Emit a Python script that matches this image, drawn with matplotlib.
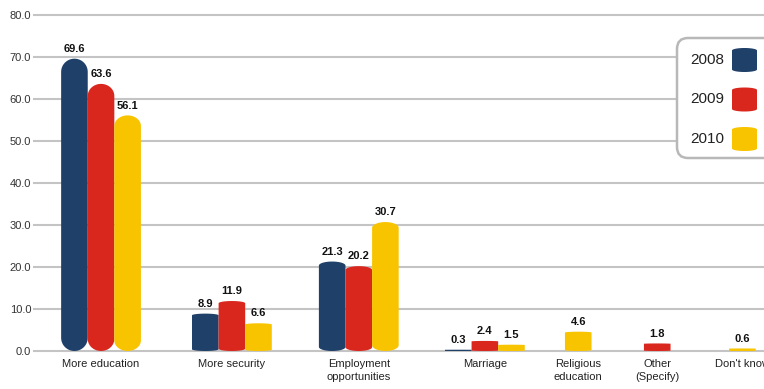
import numpy as np
import matplotlib
matplotlib.use('Agg')
import matplotlib.pyplot as plt
import matplotlib.transforms as mtransforms
from matplotlib.patches import FancyBboxPatch

plt.rcParams['font.family'] = ['Liberation Sans', 'DejaVu Sans']

categories = ["More education", "More security", "Employment\nopportunities", "Marriage",
              "Religious\neducation", "Other\n(Specify)", "Don't know"]
years = ['2008', '2009', '2010']
v2008 = [69.6, 8.9, 21.3, 0.3, 0, 0, 0]
v2009 = [63.6, 11.9, 20.2, 2.4, 0, 1.8, 0]
v2010 = [56.1, 6.6, 30.7, 1.5, 4.6, 0, 0.6]
yticks = np.arange(0, 81, 10)

colors = ['#1f4068', '#da271e', '#f8c400']

# layout, in bar widths
group_centers = [2.52, 7.44, 12.21, 16.95, 20.46, 23.43, 26.63]
cap_frac = 0.045


def cylinder(x0, w, y0, h, c, n=30):
    t = np.linspace(0, np.pi, n)
    xs_top = x0 + w / 2 + w / 2 * np.cos(t)
    ys_top = y0 + h - c + c * np.sin(t)
    xs_bot = x0 + w / 2 - w / 2 * np.cos(t)
    ys_bot = y0 + c - c * np.sin(t)
    return np.r_[xs_top, xs_bot], np.r_[ys_top, ys_bot]


def run():
    fig = plt.figure(figsize=(7.64, 3.89), dpi=100)
    ax = fig.add_axes([34 / 764, 1 - 351 / 389, 730 / 764, 336 / 389])
    ax.set_xlim(0, 730 / 26.6)
    ax.set_ylim(0, 80)
    for s in ax.spines.values():
        s.set_visible(False)

    ax.set_yticks(yticks)
    ax.set_yticklabels([f'{t:.1f}' for t in yticks])
    ax.yaxis.grid(True, color='#c4c4c4', lw=1.5)
    ax.set_axisbelow(True)
    for gl in ax.get_ygridlines():
        gl.set_clip_on(False)
    ax.tick_params(axis='y', length=0, pad=2, labelsize=8, labelcolor='#333333')

    ax.set_xticks(group_centers)
    ax.set_xticklabels(categories, fontsize=8, color='#222222', linespacing=1.3, va='top')
    ax.tick_params(axis='x', length=0, pad=6)

    series = [v2008, v2009, v2010]
    for i, xc in enumerate(group_centers):
        bars = [(k, series[k][i]) for k in range(3) if series[k][i] > 0]
        x0 = xc - len(bars) / 2
        for j, (k, v) in enumerate(bars):
            xs, ys = cylinder(x0 + j, 1.0, 0, v, cap_frac * v)
            ax.fill(xs, ys, color=colors[k], lw=0, zorder=3)
            ax.annotate(f'{v:.1f}', (x0 + j + 0.5, v), xytext=(0, 3.5),
                        textcoords='offset points', ha='center', va='bottom',
                        fontsize=8, fontweight='bold', color='#111111', zorder=4)

    # legend, placed in pixel coords (top-left origin)
    px = mtransforms.Affine2D().scale(1 / 764, -1 / 389).translate(0, 1) + fig.transFigure
    box = FancyBboxPatch((677, 38), 110, 120, boxstyle='round,pad=0,rounding_size=11',
                         transform=px, facecolor='white', edgecolor='#b8b8b8', lw=1.8)
    fig.add_artist(box)
    for k, yr in enumerate(years):
        yc = 60 + k * 39.5
        fig.text(690 / 764, 1 - yc / 389, yr, fontsize=11, color='#222222',
                 ha='left', va='center')
        xs, ys = cylinder(732, 25, yc - 12, 24, 2.5)
        sw = plt.Polygon(np.c_[xs, ys], closed=True, transform=px,
                         facecolor=colors[k], lw=0)
        fig.add_artist(sw)

    fig.savefig('out.png', dpi=100)
    plt.close(fig)


if __name__ == '__main__':
    run()
